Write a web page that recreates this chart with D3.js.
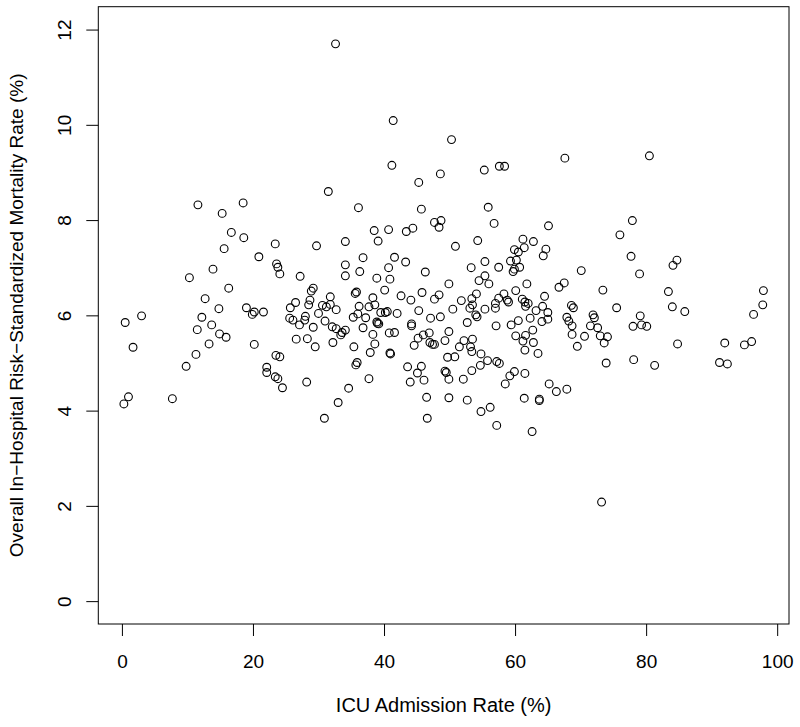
<!DOCTYPE html>
<html><head><meta charset="utf-8">
<script src="https://cdn.jsdelivr.net/npm/d3@7"></script>
<style>body{margin:0;background:#fff}</style>
</head><body>
<script>
// ICU admission rate (%) and overall in-hospital risk-standardized mortality rate (%)
const icuRate = [
32.6,41.4,50.3,41.2,45.3,48.6,55.3,57.6,58.4,67.6,80.5,
31.5,11.6,18.5,15.3,16.7,18.6,15.6,23.4,29.7,20.9,23.6,23.8,24.1,27.2,13.9,10.3,16.3,12.7,29.2,28.9,28.7,28.5,26.5,25.7,31.8,30.6,31.2,31.8,14.8,19.0,20.2,19.9,21.6,30.0,3.0,0.5,12.2,25.6,26.1,28.0,27.9,27.1,31.0,13.7,11.5,29.2,32.1,14.9,15.9,26.6,28.3,32.2,1.7,13.3,20.2,29.5,
11.3,9.8,23.5,24.1,22.1,22.1,23.4,23.8,24.5,28.2,1.0,0.3,7.7,30.9,
36.1,45.7,55.9,56.8,65.1,47.7,48.7,48.4,38.5,40.7,43.4,44.4,39.1,34.1,50.9,54.3,61.2,62.8,59.9,60.5,61.4,64.7,64.3,59.3,60.2,59.9,60.7,59.7,41.6,36.8,34.1,34.1,36.3,40.7,40.9,43.3,38.9,46.3,53.3,55.4,57.5,55.4,54.5,56.0,61.8,49.9,40.1,35.6,35.8,38.3,42.6,44.1,45.8,48.4,47.7,51.8,54.1,53.4,58.3,57.5,58.8,59.0,60.1,61.1,61.5,62.0,61.6,64.5,66.7,67.5,32.7,38.6,37.7,36.2,35.3,36.0,37.2,40.5,40.2,42.0,39.5,38.9,39.2,39.0,36.8,32.7,33.6,33.4,34.1,38.3,38.6,40.8,41.6,44.2,44.2,45.3,47.1,48.6,50.5,52.7,53.1,53.5,54.0,54.2,55.4,57.0,57.0,57.1,59.4,60.5,62.3,63.2,64.2,64.1,65.0,65.0,62.7,61.6,60.1,61.2,62.8,49.9,49.3,46.9,46.0,45.2,47.0,47.4,47.7,44.6,51.5,52.2,53.5,53.2,35.4,
37.9,40.9,41.0,49.7,50.8,53.4,54.8,61.5,63.5,35.9,35.7,43.6,45.7,45.1,46.1,44.0,49.3,49.5,49.9,52.1,53.4,54.7,55.8,57.2,57.6,58.5,59.2,59.9,61.5,37.7,34.6,33.0,46.5,49.9,52.7,54.8,56.2,46.6,57.2,61.4,63.7,63.7,65.2,66.3,67.9,62.6,
77.9,76.0,77.7,79.0,84.7,84.1,70.1,73.4,83.4,84.0,85.9,97.9,97.8,96.4,75.5,68.6,68.9,67.9,68.2,68.7,68.7,71.9,72.1,71.5,72.6,70.6,73.0,74.1,73.6,79.1,78.0,79.3,80.1,69.5,84.8,92.0,95.0,96.1,
73.9,78.1,81.3,91.2,92.4,73.2
];
const mortRate = [
11.70,10.09,9.69,9.15,8.79,8.97,9.05,9.13,9.13,9.30,9.35,
8.60,8.32,8.36,8.14,7.74,7.63,7.40,7.50,7.46,7.23,7.08,7.01,6.87,6.82,6.97,6.79,6.57,6.35,6.57,6.51,6.32,6.22,6.27,6.16,6.39,6.21,6.18,6.23,6.14,6.16,6.07,6.02,6.07,6.04,5.99,5.85,5.96,5.94,5.90,5.98,5.90,5.80,5.88,5.80,5.70,5.75,5.76,5.61,5.54,5.50,5.51,5.43,5.33,5.40,5.39,5.34,
5.18,4.93,5.16,5.13,4.91,4.80,4.71,4.67,4.48,4.60,4.29,4.14,4.25,3.84,
8.26,8.23,8.27,7.93,7.88,7.95,7.99,7.85,7.78,7.80,7.76,7.83,7.56,7.55,7.45,7.57,7.60,7.55,7.38,7.33,7.42,7.39,7.25,7.14,7.16,6.97,7.01,6.92,7.22,7.21,7.06,6.83,6.92,7.00,6.76,7.12,6.78,6.91,7.00,7.13,7.01,6.83,6.73,6.66,6.66,6.66,6.53,6.46,6.49,6.37,6.41,6.32,6.48,6.43,6.34,6.31,6.45,6.35,6.45,6.36,6.32,6.28,6.52,6.34,6.28,6.25,6.19,6.40,6.59,6.68,6.12,6.22,6.18,6.19,5.96,6.03,5.95,6.08,6.06,6.04,6.06,5.86,5.82,5.83,5.74,5.72,5.64,5.59,5.69,5.60,5.40,5.63,5.64,5.82,5.78,6.10,5.94,5.97,6.13,5.85,6.15,6.22,6.01,5.97,6.13,6.15,6.25,5.78,5.80,5.89,5.94,6.10,6.19,5.87,5.92,6.06,5.69,5.58,5.57,5.46,5.43,5.66,5.47,5.63,5.59,5.52,5.43,5.39,5.39,5.37,5.34,5.47,5.50,5.34,5.34,
5.22,5.21,5.19,5.12,5.13,5.24,5.19,5.27,5.20,5.01,4.96,4.92,4.93,4.79,4.64,4.60,4.83,4.80,4.66,4.66,4.84,4.95,5.05,5.03,4.99,4.56,4.73,4.82,4.78,4.67,4.47,4.17,4.28,4.27,4.22,3.98,4.07,3.84,3.69,4.26,4.24,4.21,4.56,4.40,4.45,3.56,
7.99,7.69,7.24,6.87,7.16,7.05,6.94,6.53,6.50,6.18,6.08,6.52,6.22,6.02,6.16,6.21,6.16,5.96,5.88,5.78,5.60,6.01,5.95,5.78,5.74,5.56,5.57,5.55,5.42,5.99,5.77,5.80,5.77,5.35,5.40,5.42,5.38,5.45,
5.00,5.07,4.95,5.01,4.98,2.08
];
const xTicks = [0, 20, 40, 60, 80, 100];
const yTicks = [0, 2, 4, 6, 8, 10, 12];
const xLabel = "ICU Admission Rate (%)";
const yLabel = "Overall In\u2212Hospital Risk\u2212Standardized Mortality Rate (%)";

const W = 800, H = 727;
const L = 98.3, R = 789, T = 6.7, B = 624;
const pts = icuRate.map((v, i) => ({x: v, y: mortRate[i]}));

// R-style 4% axis extension
const ext = (a, b) => { const r = b - a; return [a - 0.04 * r, b + 0.04 * r]; };
const xe = d3.extent(icuRate);
const x = d3.scaleLinear().domain(ext(xe[0], xe[1])).range([L, R]);
const y = d3.scaleLinear().domain(ext(0, 12)).range([B, T]);

const font = "'Liberation Sans', Arial, Helvetica, sans-serif";
const svg = d3.select("body").append("svg").attr("width", W).attr("height", H)
  .style("font-family", font);

svg.append("g").selectAll("circle").data(pts).join("circle")
  .attr("cx", d => x(d.x)).attr("cy", d => y(d.y)).attr("r", 3.9)
  .attr("fill", "none").attr("stroke", "#000").attr("stroke-width", 1.1);

svg.append("rect").attr("x", L).attr("y", T).attr("width", R - L).attr("height", B - T)
  .attr("fill", "none").attr("stroke", "#000").attr("stroke-width", 1);

const gx = svg.append("g").attr("transform", `translate(0,${B})`)
  .call(d3.axisBottom(x).tickValues(xTicks).tickSize(12).tickFormat(d3.format("d")));
gx.select(".domain").remove();
gx.selectAll("line").attr("stroke", "#000");
gx.selectAll("text").attr("y", 43.7).attr("dy", 0).attr("fill", "#000")
  .style("font-size", "19px").style("font-family", font);

const gy = svg.append("g").attr("transform", `translate(${L},0)`)
  .call(d3.axisLeft(y).tickValues(yTicks).tickSize(12).tickFormat(d3.format("d")));
gy.select(".domain").remove();
gy.selectAll("line").attr("stroke", "#000");
gy.selectAll("text").attr("x", 0).attr("y", -27.5).attr("dy", 0)
  .attr("transform", "rotate(-90)").attr("text-anchor", "middle").attr("fill", "#000")
  .style("font-size", "19px").style("font-family", font);

svg.append("text").attr("x", (L + R) / 2).attr("y", 712).attr("text-anchor", "middle")
  .style("font-size", "20px").text(xLabel);
svg.append("text").attr("transform", `translate(23,${(T + B) / 2}) rotate(-90)`)
  .attr("text-anchor", "middle").style("font-size", "19px").text(yLabel);
</script>
</body></html>
